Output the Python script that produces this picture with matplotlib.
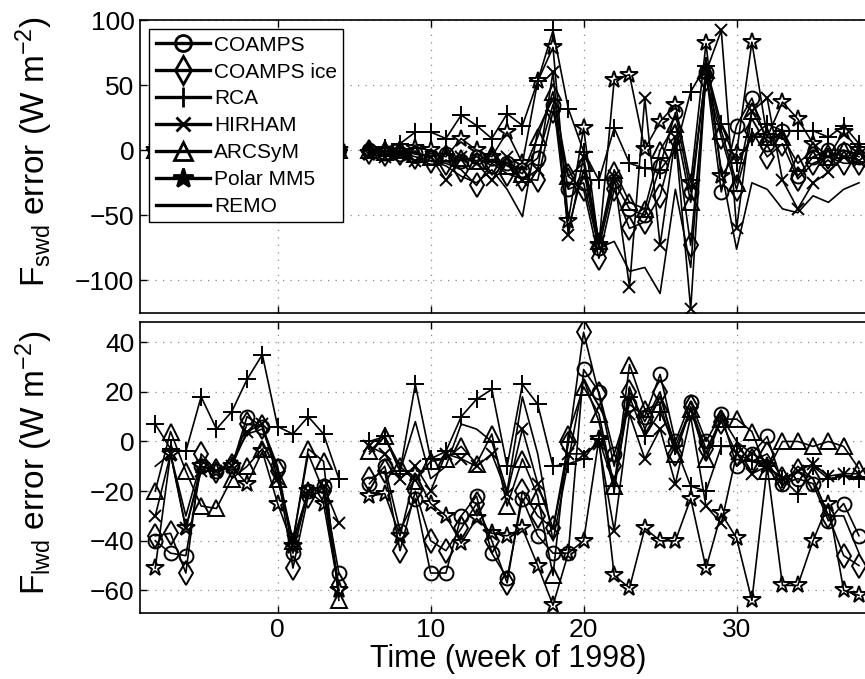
import numpy as np
import matplotlib.pyplot as plt

plt.rcParams['font.family'] = ['Liberation Sans', 'DejaVu Sans']
plt.rcParams['mathtext.fontset'] = 'custom'
plt.rcParams['mathtext.rm'] = 'Liberation Sans'
plt.rcParams['mathtext.it'] = 'Liberation Sans'

nan = np.nan

# недели 1998 г. (неделя 5 - пропуск)
weeks = list(range(-8, 39))

models = ['COAMPS', 'COAMPS ice', 'RCA', 'HIRHAM', 'ARCSyM', 'Polar MM5', 'REMO']

# ошибка коротковолновой радиации, W m-2
swd_coamps = [0, 0, 0, 0, 0, 0, 0, 0, 0, 0, 0, 0, 0, nan,
              0, -2, -3, -2, -5, -3, -8, -5, -12, -10, -15, -6, 35, -30, -25, -75, -24,
              -45, -50, -12, 29, -32, 60, -32, 19, 40, 5, 15, -20, -5, 0, 0, -5]
swd_coamps_ice = [0, 0, 0, 0, 0, 0, 0, 0, 0, 0, 0, 0, 0, nan,
                  -1, -3, -2, -5, -8, -10, -15, -27, -10, -18, -22, -23, 30, -20, -30, -83, -30,
                  -60, -55, -35, 10, -73, 55, 10, -30, 15, -5, 5, -22, -10, -5, -10, -10]
swd_rca = [0, 0, 0, 0, 0, 0, 0, 0, 0, 0, 0, 0, 0, nan,
           0, 2, 5, 14, 14, 9, 27, 19, 9, 28, 19, 53, 92, 32, -1, -23, 17,
           -10, -14, -15, 0, 45, 65, 20, -10, 10, 20, 15, 15, 15, 10, 19, 5]
swd_hirham = [0, 0, 0, 0, 0, 0, 0, 0, 0, 0, 0, 0, 0, nan,
              -3, -5, -3, -8, -5, -23, -5, -10, -23, -5, -23, -15, 60, -65, -5, -70, -20,
              -105, 40, -73, 10, -122, 60, 92, -60, 30, 40, -23, -45, -25, -17, -5, -8]
swd_arcsym = [0, 0, 0, 0, 0, 0, 0, 0, 0, 0, 0, 0, 0, nan,
              0, -1, 0, -3, -5, -2, -6, -8, -3, -12, -18, 10, 45, -20, -10, -70, -15,
              -40, -45, 0, 20, -40, 62, 15, -25, 30, 10, 10, -10, 0, -5, 0, -3]
swd_polar = [0, 0, 0, 0, 0, 0, 0, 0, 0, 0, 0, 0, 0, nan,
             -2, 0, -1, 2, 0, -5, 9, 0, -5, 14, -10, 53, 79, -54, 17, -73, 54,
             58, 1, 22, 35, -25, 82, -20, -2, 83, 10, 37, 24, 5, -5, 14, 0]
swd_remo = [0, 0, 0, 0, 0, 0, 0, 0, 0, 0, 0, 0, 0, nan,
            -2, -3, -5, -10, -8, -12, -20, -25, -15, -30, -51, 15, 40, -60, -15, -75, -70,
            -93, -90, -110, -30, -90, 62, -15, -76, -25, -30, -45, -48, -35, -40, -30, -25]

# ошибка длинноволновой радиации, W m-2
lwd_coamps = [-40, -45, -46, -10, -12, -10, 10, 6, -10, -45, -20, -18, -53, nan,
              -17, -10, -36, -23, -53, -53, -30, -22, -45, -55, -23, -38, -45, -45, 29, 20, -5,
              15, 10, 27, 0, 16, 0, 11, -10, -5, 2, -17, -15, -17, -32, -25, -38]
lwd_coamps_ice = [-38, -37, -53, -5, -12, -10, 7, 6, -12, -51, -22, -20, -58, nan,
                  -15, -12, -44, -20, -40, -44, -35, -25, -40, -57, -20, -30, -35, -1, 44, 19, -10,
                  20, 8, 20, -5, 14, -3, 8, -5, -8, -5, -15, -12, -15, -30, -46, -50]
lwd_rca = [7, -3, -4, 18, 5, 12, 25, 35, 6, 3, 10, 3, -15, nan,
           0, 2, -12, 23, -7, -4, 10, 17, 21, -10, 23, 15, -10, -9, -7, 1, -18,
           18, 2, 12, -2, -18, -20, -2, -2, -8, -10, -15, -21, -10, -15, -14, -15]
lwd_hirham = [-30, -5, -35, -12, -12, -10, 4, 7, -15, -40, -20, -18, -33, nan,
              -2, -5, -15, -10, -20, -5, -7, -10, -5, -21, 5, -17, -35, -5, -5, -1, -36,
              11, -7, 5, -17, 10, -26, -33, -5, -13, -10, -15, -12, -9, -14, -13, -13]
lwd_arcsym = [-20, 4, -12, -26, -27, -15, -10, -3, -15, -40, -3, -8, -64, nan,
              -4, 2, -10, -16, -8, -7, -2, -9, 3, -26, -7, -22, -54, 3, 22, 11, -18,
              31, 13, 15, -5, 13, -7, 9, 9, 4, -12, 0, 0, -2, 0, -2, -11]
lwd_polar = [-51, -5, -35, -10, -12, -10, -17, -4, -25, -42, -20, -25, -60, nan,
             -22, -21, -38, -13, -25, -30, -41, -31, -37, -38, -35, -50, -66, -45, -40, 1, -54,
             -59, -35, -40, -40, -23, -51, -29, -39, -64, -10, -58, -58, -40, -25, -60, -62]
lwd_remo = [-10, -5, -30, -8, -12, -8, 3, 5, -12, -40, -5, -20, -60, nan,
            -5, 2, -12, 8, -15, -10, 7, 5, 0, -20, 18, -5, -40, -8, 25, 8, -20,
            22, 5, 18, -2, 13, -5, 10, 0, -5, -8, -18, -10, -15, -30, -30, -45]

swd = [swd_coamps, swd_coamps_ice, swd_rca, swd_hirham, swd_arcsym, swd_polar, swd_remo]
lwd = [lwd_coamps, lwd_coamps_ice, lwd_rca, lwd_hirham, lwd_arcsym, lwd_polar, lwd_remo]

markers = ['o', 'd', '+', 'x', '^', '*', None]
msizes = [10, 12, 13, 9, 11, 13, 0]


def style_axes(ax, ylim, yticks):
    ax.set_xlim(-9, 40)
    ax.set_ylim(*ylim)
    ax.set_yticks(yticks)
    ax.set_xticks([0, 10, 20, 30])
    ax.tick_params(direction='in', length=5, width=1, top=True, right=True,
                   labelsize=19, pad=4)
    ax.grid(True, color='0.55', linestyle=(0, (1, 5)), linewidth=0.9)
    for sp in ax.spines.values():
        sp.set_linewidth(1.2)


def draw(ax, series):
    for name, vals, m, ms in zip(models, series, markers, msizes):
        ax.plot(weeks, vals, color='black', linewidth=1.2, marker=m,
                markersize=ms, markerfacecolor='none', markeredgewidth=1.4,
                label=name)


fig = plt.figure(figsize=(8.65, 6.79), dpi=100)
ax1 = fig.add_axes([0.1618, 0.539, 0.8666, 0.4315])
ax2 = fig.add_axes([0.1618, 0.0976, 0.8666, 0.4277])

draw(ax1, swd)
style_axes(ax1, (-125, 100), [-100, -50, 0, 50, 100])
ax1.set_xticklabels([])
ax1.set_ylabel(r'F$_{\rm swd}$ error (W m$^{-2}$)', fontsize=24)
ax1.yaxis.set_label_coords(-0.113, 0.55)
leg = ax1.legend(loc='upper left', fontsize=15, frameon=True, fancybox=False,
                 edgecolor='black', framealpha=1, handlelength=2.6,
                 handletextpad=0.2, labelspacing=0.38, borderpad=0.3,
                 borderaxespad=0.45, markerscale=1.15)
leg.get_frame().set_linewidth(1.0)
for h in leg.legend_handles:
    h.set_linewidth(2.4)
    h.set_markeredgewidth(2.0)
# в легенде звезда залита
leg.legend_handles[5].set_markerfacecolor('black')

draw(ax2, lwd)
style_axes(ax2, (-69, 48), [-60, -40, -20, 0, 20, 40])
ax2.set_ylabel(r'F$_{\rm lwd}$ error (W m$^{-2}$)', fontsize=24)
ax2.yaxis.set_label_coords(-0.113, 0.515)
ax2.set_xlabel('Time (week of 1998)', fontsize=22)
ax2.xaxis.set_label_coords(0.491, -0.108)

fig.savefig('out.png', dpi=100)
